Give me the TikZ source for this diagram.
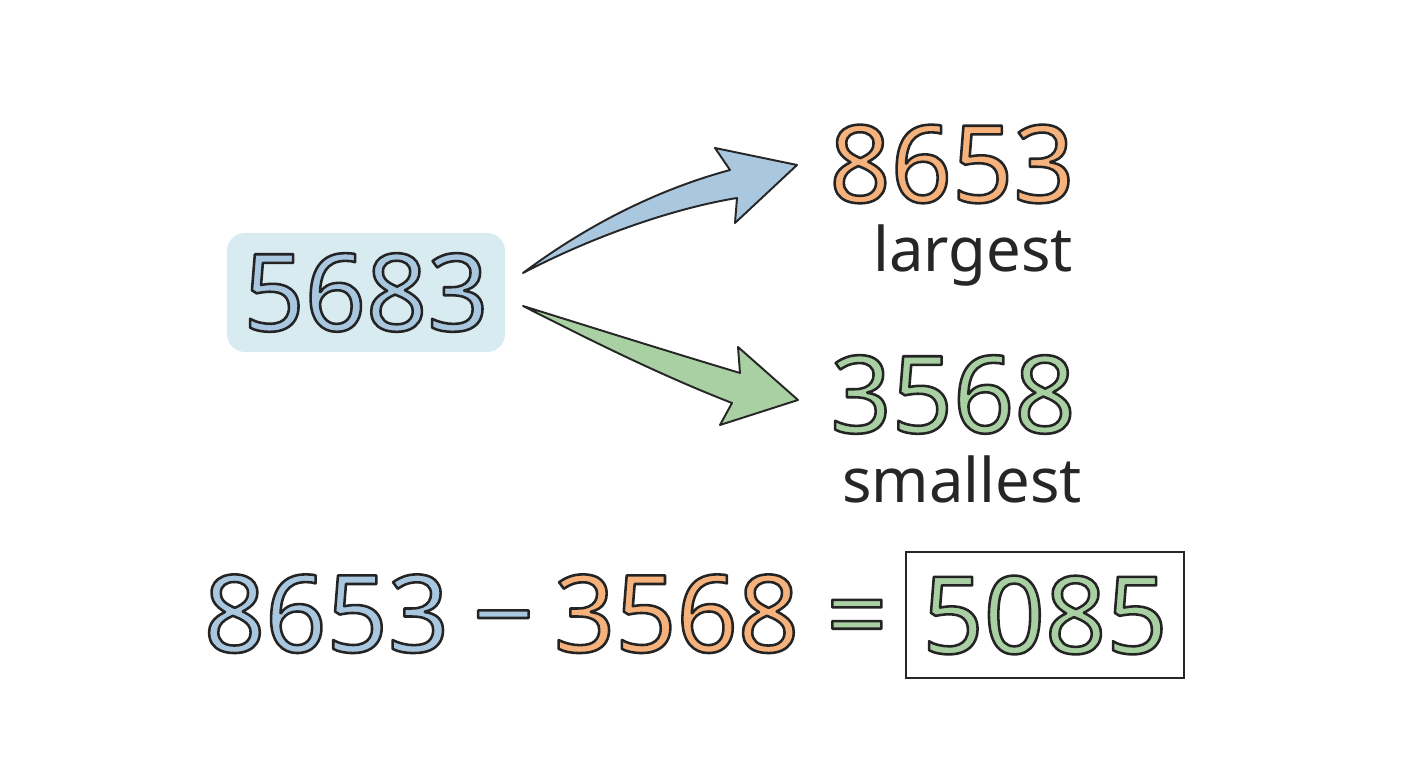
\documentclass[tikz,border=0pt]{standalone}
\usepackage{fontspec}
\setmainfont{Noto Sans}

\definecolor{inkc}{HTML}{262626}
\definecolor{bluef}{HTML}{A9C8DF}
\definecolor{boxf}{HTML}{D8EBF1}
\definecolor{orangef}{HTML}{F5B27C}
\definecolor{greenf}{HTML}{A9D0A2}

% coloured glyphs with a dark outline
\newcommand\outl[2]{{\color{#1}\special{pdf:literal direct 0.14 0.14 0.14 RG 1 j 1.45 w 2 Tr}#2\special{pdf:literal direct 0 Tr}}}

\tikzset{
  bignum/.style={font=\fontsize{61}{61}\selectfont, inner sep=0pt},
  word/.style={font=\fontsize{35}{35}\selectfont, text=inkc, inner sep=0pt, anchor=base},
  startbox/.style={bignum, fill=boxf, rounded corners=0.36cm, minimum width=5.56cm, minimum height=2.38cm},
  resultbox/.style={bignum, draw=inkc, line width=1.1pt, minimum width=5.56cm, minimum height=2.52cm},
  fatarrow/.style={draw=inkc, line width=1.1pt, line join=round}
}

\begin{document}
\begin{tikzpicture}
\fill[white] (0,0) rectangle (28.16,15.36);
\useasboundingbox (0,0) rectangle (28.16,15.36);

\node[startbox] (start) at (7.32,9.51){\outl{bluef}{5683}};
\node[bignum] (large) at (19.04,12.08){\outl{orangef}{8653}};
\node[word] (largelbl) at (19.46,9.92){largest};
\node[bignum] (small) at (19.06,7.47){\outl{greenf}{3568}};
\node[word] (smalllbl) at (19.24,5.30){smallest};

% the two fanning arrows
\coordinate (uptail) at (10.46,9.90);
\coordinate (downtail) at (10.46,9.24);
\filldraw[fatarrow, fill=bluef] (uptail) .. controls (11.80,10.90) and (13.20,11.58) .. (14.60,11.96)
  -- (14.30,12.40) -- (15.94,12.06) -- (14.70,10.90) -- (14.74,11.40)
  .. controls (13.40,11.18) and (11.80,10.60) .. (uptail) -- cycle;
\filldraw[fatarrow, fill=greenf] (downtail) .. controls (12.00,8.76) and (13.40,8.32) .. (14.80,7.90)
  -- (14.76,8.42) -- (15.96,7.36) -- (14.40,6.86) -- (14.64,7.30)
  .. controls (13.20,7.86) and (11.80,8.56) .. (downtail) -- cycle;

% bottom line
\foreach \n/\x/\c/\t in {lhs/6.53/bluef/8653, minus/10.07/bluef/−, rhs/13.53/orangef/3568, eq/17.14/greenf/=}
  \node[bignum, anchor=base] (\n) at (\x,2.32){\outl{\c}{\t}};
\node[resultbox] (result) at (20.90,3.06){\outl{greenf}{5085}};
\end{tikzpicture}
\end{document}
